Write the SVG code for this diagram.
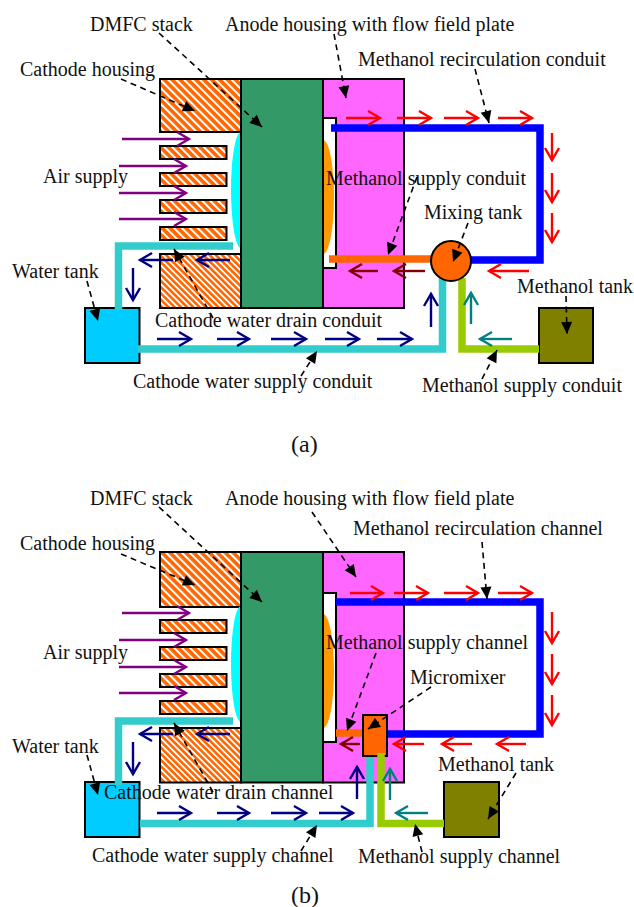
<svg xmlns="http://www.w3.org/2000/svg" width="634" height="907" viewBox="0 0 634 907">
<style>
text{font-family:"Liberation Serif","Times New Roman",serif;font-size:20px;fill:#111}
.box{stroke:#000;stroke-width:2}
.h{fill:url(#hatch)}
.h2{fill:url(#hatch2)}
.stack{fill:#339966}
.anode{fill:#ff66ff}
.slot{fill:#fff}
.pipe{fill:none;stroke-width:7.5;stroke-linejoin:miter}
.w{stroke:#33cccc}.b{stroke:#0000ff}.o{stroke:#ff6600}.g{stroke:#99cc00}
.a{fill:none;stroke-width:2.4}
.pu{stroke:#800080;marker-end:url(#mpu)}
.na{stroke:#000080;marker-end:url(#mna)}
.re{stroke:#ff0000;marker-end:url(#mre)}
.dr{stroke:#800000;marker-end:url(#mdr)}
.te{stroke:#008080;marker-end:url(#mte)}
.l{fill:none;stroke:#000;stroke-width:1.6;stroke-dasharray:6 4.5;marker-end:url(#tri)}
</style>
<defs>
<pattern id="hatch" width="5.6" height="5.6" patternUnits="userSpaceOnUse" patternTransform="rotate(45)"><rect width="5.6" height="5.6" fill="#fff"/><rect width="5.6" height="3.6" fill="#ff6600"/></pattern>
<pattern id="hatch2" width="4.4" height="4.4" patternUnits="userSpaceOnUse" patternTransform="rotate(45)"><rect width="4.4" height="4.4" fill="#fff"/><rect width="4.4" height="2.6" fill="#ff6600"/></pattern>
<marker id="mpu" markerUnits="userSpaceOnUse" markerWidth="18" markerHeight="20" refX="12" refY="7" orient="auto" overflow="visible"><path d="M0 0L12 7L0 14" fill="none" stroke="#800080" stroke-width="2.4"/></marker>
<marker id="mna" markerUnits="userSpaceOnUse" markerWidth="18" markerHeight="20" refX="12" refY="7" orient="auto" overflow="visible"><path d="M0 0L12 7L0 14" fill="none" stroke="#000080" stroke-width="2.4"/></marker>
<marker id="mre" markerUnits="userSpaceOnUse" markerWidth="18" markerHeight="20" refX="12" refY="7" orient="auto" overflow="visible"><path d="M0 0L12 7L0 14" fill="none" stroke="#ff0000" stroke-width="2.4"/></marker>
<marker id="mdr" markerUnits="userSpaceOnUse" markerWidth="18" markerHeight="20" refX="12" refY="7" orient="auto" overflow="visible"><path d="M0 0L12 7L0 14" fill="none" stroke="#800000" stroke-width="2.4"/></marker>
<marker id="mte" markerUnits="userSpaceOnUse" markerWidth="18" markerHeight="20" refX="12" refY="7" orient="auto" overflow="visible"><path d="M0 0L12 7L0 14" fill="none" stroke="#008080" stroke-width="2.4"/></marker>
<marker id="tri" markerUnits="userSpaceOnUse" markerWidth="14" markerHeight="12" refX="12" refY="5.500" orient="auto" overflow="visible"><path d="M0 0L12 5.500L0 11Z" fill="#000"/></marker>
</defs>
<rect width="634" height="907" fill="#fff"/>

<g id="a-cathode-housing">
<rect class="box h" x="160" y="79" width="81" height="53"/>
<rect class="box h" x="160" y="146" width="66.500" height="13"/>
<rect class="box h" x="160" y="173" width="66.500" height="13"/>
<rect class="box h" x="160" y="200" width="66.500" height="13"/>
<rect class="box h" x="160" y="227" width="66.500" height="13"/>
<rect class="box h2" x="160" y="254" width="81" height="54"/>
</g>
<g id="a-mea"><ellipse cx="241" cy="190" rx="10" ry="58" fill="#00ffff"/></g>
<g id="a-anode">
<rect class="box anode" x="323" y="79" width="81" height="229"/>
<rect class="box slot" x="323" y="118" width="13" height="150"/>
<ellipse cx="323" cy="197" rx="11" ry="57" fill="#ff9900"/>
</g>
<g id="a-stack"><rect class="box stack" x="241" y="79" width="82" height="229"/></g>
<g id="a-water-tank"><rect class="box" x="85" y="308" width="54.500" height="55" fill="#00ccff"/></g>
<g id="a-methanol-tank"><rect class="box" x="539" y="308" width="54" height="55" fill="#808000"/></g>

<g id="b-cathode-housing">
<rect class="box h" x="160" y="552" width="81" height="55"/>
<rect class="box h" x="160" y="620" width="66.500" height="13"/>
<rect class="box h" x="160" y="647" width="66.500" height="13"/>
<rect class="box h" x="160" y="674" width="66.500" height="13"/>
<rect class="box h" x="160" y="701" width="66.500" height="13"/>
<rect class="box h2" x="160" y="728" width="81" height="54.500"/>
</g>
<g id="b-mea"><ellipse cx="241" cy="664" rx="10" ry="58" fill="#00ffff"/></g>
<g id="b-anode">
<rect class="box anode" x="323" y="552" width="81" height="230.500"/>
<rect class="box slot" x="323" y="593" width="13" height="149"/>
<ellipse cx="323" cy="671" rx="11" ry="57" fill="#ff9900"/>
</g>
<g id="b-stack"><rect class="box stack" x="241" y="552" width="82" height="230.500"/></g>
<g id="b-water-tank"><rect class="box" x="85" y="782" width="54.500" height="55" fill="#00ccff"/></g>
<g id="b-methanol-tank"><rect class="box" x="444" y="782" width="55" height="55" fill="#808000"/></g>

<g id="connectors">
<path class="pipe b" d="M331 128H540V260H465"/>
<path class="pipe o" d="M329 259H433"/>
<path class="pipe w" d="M233 246H118.500V310"/>
<path class="pipe w" d="M138 349H442.500V278"/>
<path class="pipe g" d="M462 278V349H539"/>

<path class="pipe b" d="M336 602H540V734H386"/>
<path class="pipe o" d="M336 733H364"/>
<path class="pipe w" d="M233 721H118.500V785"/>
<path class="pipe w" d="M140 823.500H370V755"/>
<path class="pipe g" d="M381 753V823.500H444"/>

<g class="arrows-a">
<path class="a pu" d="M122 139H189"/><path class="a pu" d="M119 166H186"/><path class="a pu" d="M119 193H186"/><path class="a pu" d="M119 219H186"/>
<path class="a re" d="M346 118H380"/><path class="a re" d="M397 118H431"/><path class="a re" d="M444 118H478"/><path class="a re" d="M498 118H532"/>
<path class="a re" d="M552 133V160"/><path class="a re" d="M552 173V202"/><path class="a re" d="M552 213V242"/>
<path class="a re" d="M529 271H489"/>
<path class="a dr" d="M378 271H350"/><path class="a dr" d="M425 271H394"/>
<path class="a na" d="M230 260H197"/><path class="a na" d="M173 260H140"/><path class="a na" d="M133 268V300"/>
<path class="a na" d="M157 339H191"/><path class="a na" d="M217 339H249"/><path class="a na" d="M271 339H306"/><path class="a na" d="M325 339H359"/><path class="a na" d="M377 339H412"/><path class="a na" d="M431 327V294"/>
<path class="a te" d="M471 324V293"/><path class="a te" d="M512 339H480"/>
</g>
<g class="arrows-b">
<path class="a pu" d="M122 613H189"/><path class="a pu" d="M119 640H186"/><path class="a pu" d="M119 667H186"/><path class="a pu" d="M119 693H186"/>
<path class="a re" d="M350 593H383"/><path class="a re" d="M394 593H428"/><path class="a re" d="M444 593H478"/><path class="a re" d="M498 593H532"/>
<path class="a re" d="M552 612V643"/><path class="a re" d="M552 654V684"/><path class="a re" d="M552 695V725"/>
<path class="a re" d="M424 744H394"/><path class="a re" d="M472 744H442"/><path class="a re" d="M526 744H497"/>
<path class="a dr" d="M360 744H341"/>
<path class="a na" d="M230 734H197"/><path class="a na" d="M173 734H140"/><path class="a na" d="M133 742V774"/>
<path class="a na" d="M157 813H191"/><path class="a na" d="M217 813H249"/><path class="a na" d="M271 813H306"/><path class="a na" d="M319 813H353"/><path class="a na" d="M357 799V767"/>
<path class="a te" d="M390 800V769"/><path class="a te" d="M428 813H396"/>
</g>
</g>

<g id="a-mixing-tank"><circle cx="451" cy="261" r="20" fill="#ff6600" stroke="#000" stroke-width="2"/></g>
<g id="b-micromixer"><rect class="box" x="363" y="715" width="24" height="41" fill="#ff6600"/></g>
<path class="pipe g" d="M381 753V758"/>

<g id="leaders">
<path class="l" d="M159 33L262 127"/><path class="l" d="M121 79L195 111"/><path class="l" d="M334 34L346 98"/><path class="l" d="M475 69L489 123"/>
<path class="l" d="M417 177L388 255"/><path class="l" d="M468 223L453 262"/><path class="l" d="M566 296L567 334"/><path class="l" d="M482 379L497 350"/>
<path class="l" d="M301 376L317 351"/><path class="l" d="M213 318L174 249"/><path class="l" d="M87 281L98 321"/>
<path class="l" d="M159 507L262 602"/><path class="l" d="M121 554L195 585"/><path class="l" d="M312 512L356 577"/><path class="l" d="M482 542L487 599"/>
<path class="l" d="M376 653L347 731"/><path class="l" d="M431 687L368 729"/><path class="l" d="M516 773L488 819"/><path class="l" d="M422 852L415 824"/>
<path class="l" d="M301 851L317 825"/><path class="l" d="M213 792L174 723"/><path class="l" d="M87 755L98 795"/>
</g>

<g id="labels">
<text x="90" y="31">DMFC stack</text>
<text x="225" y="31">Anode housing with flow field plate</text>
<text x="358" y="66">Methanol recirculation conduit</text>
<text x="20" y="76">Cathode housing</text>
<text x="43" y="183">Air supply</text>
<text x="326" y="185">Methanol supply conduit</text>
<text x="424" y="219">Mixing tank</text>
<text x="12" y="278">Water tank</text>
<text x="155" y="327">Cathode water drain conduit</text>
<text x="133" y="388">Cathode water supply conduit</text>
<text x="517" y="293">Methanol tank</text>
<text x="422" y="392">Methanol supply conduit</text>
<text x="291" y="452" style="font-size:24px">(a)</text>
<text x="90" y="505">DMFC stack</text>
<text x="225" y="505">Anode housing with flow field plate</text>
<text x="353" y="535">Methanol recirculation channel</text>
<text x="20" y="550">Cathode housing</text>
<text x="43" y="659">Air supply</text>
<text x="326" y="649">Methanol supply channel</text>
<text x="410" y="684">Micromixer</text>
<text x="12" y="753">Water tank</text>
<text x="104" y="799">Cathode water drain channel</text>
<text x="92" y="862">Cathode water supply channel</text>
<text x="438" y="771">Methanol tank</text>
<text x="358" y="863">Methanol supply channel</text>
<text x="291" y="903" style="font-size:24px">(b)</text>
</g>
</svg>
